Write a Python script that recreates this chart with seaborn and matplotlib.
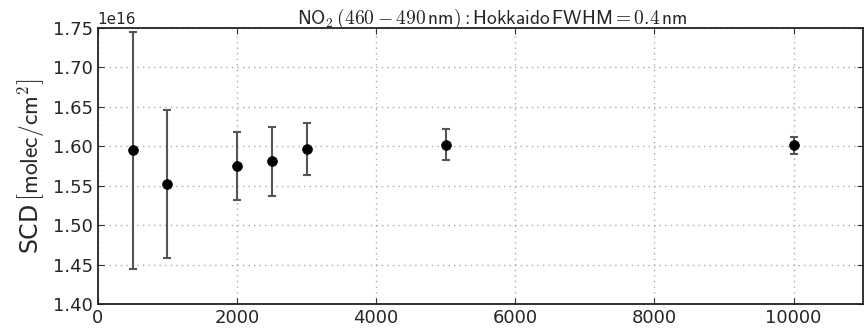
import numpy as np
import pandas as pd
import matplotlib
matplotlib.use('Agg')
import matplotlib.pyplot as plt
import seaborn as sns

# ── data ─────────────────────────────────────────────────────────────────────
resolution = [500, 1000, 2000, 2500, 3000, 5000, 10000]
scd_mean = [1.595e16, 1.552e16, 1.575e16, 1.581e16, 1.597e16, 1.602e16, 1.601e16]
scd_err = [0.150e16, 0.094e16, 0.043e16, 0.044e16, 0.033e16, 0.0194e16, 0.011e16]

df = pd.DataFrame({'res': resolution, 'scd': scd_mean, 'err': scd_err})

sns.set_style('ticks')
plt.rcParams['font.family'] = ['DejaVu Sans']
plt.rcParams['mathtext.fontset'] = 'cm'

fig = plt.figure(figsize=(8.65, 3.29), dpi=100)
ax = fig.add_axes([0.113, 0.076, 0.885, 0.839])

ax.errorbar(df['res'], df['scd'], yerr=df['err'], fmt='none',
            ecolor='#555555', elinewidth=1.5, capsize=3, capthick=1.5, zorder=2)
sns.scatterplot(data=df, x='res', y='scd', ax=ax, color='black', s=50,
                edgecolor='black', linewidth=0.5, zorder=3, legend=False)

ax.set_xlim(0, 11000)
ax.set_ylim(1.40e16, 1.75e16)
ax.set_xticks([0, 2000, 4000, 6000, 8000, 10000])
ax.set_yticks(np.arange(1.40e16, 1.7501e16, 0.05e16))
ax.grid(True, linestyle=(0, (1, 3)), color='#aaaaaa', linewidth=1)
ax.tick_params(direction='in', labelsize=13, length=4, color='#333333',
               top=True, right=True)
ax.yaxis.get_offset_text().set_fontsize(11)
for s in ax.spines.values():
    s.set_linewidth(1.3)
    s.set_color('#222222')

ax.set_xlabel('')
ax.set_ylabel(r'SCD$\,\left[\mathsf{molec/cm^2}\right]$', fontsize=17)
ax.set_title(r'$\mathsf{NO_2}\,(460-490\,\mathsf{nm}):\mathsf{Hokkaido\,FWHM}=0.4\,\mathsf{nm}$',
             fontsize=14, pad=3, x=0.515)

fig.savefig('out.png', dpi=100)
